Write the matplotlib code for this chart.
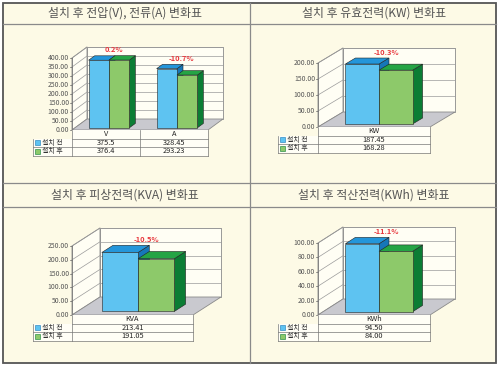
import numpy as np
import matplotlib.pyplot as plt
from matplotlib.patches import Polygon, Rectangle
from matplotlib.lines import Line2D

plt.rcParams['font.family'] = ['Noto Sans CJK KR', 'DejaVu Sans']

titles = [
    "설치 후 전압(V), 전류(A) 변화표",
    "설치 후 유효전력(KW) 변화표",
    "설치 후 피상전력(KVA) 변화표",
    "설치 후 적산전력(KWh) 변화표",
]
categories = [["V", "A"], ["KW"], ["KVA"], ["KWh"]]
before_txt = [["375.5", "328.45"], ["187.45"], ["213.41"], ["94.50"]]
after_txt = [["376.4", "293.23"], ["168.28"], ["191.05"], ["84.00"]]
change_labels = [["0.2%", "-10.7%"], ["-10.3%"], ["-10.5%"], ["-11.1%"]]
y_max = [400, 200, 250, 100]
y_step = [50, 50, 50, 20]
series_names = ["설치 전", "설치 후"]

W, H = 500, 367
BG = "#FDFAE6"
# front plane of each panel in pixels (x0, x1, y zero, y top), wall depth, legend column left
panels_px = [
    dict(x0=72, x1=208, y0=130, yt=58, dx=15, dy=11, lx=33),
    dict(x0=318, x1=430, y0=127, yt=63, dx=25, dy=15, lx=278),
    dict(x0=72, x1=193, y0=315, yt=246, dx=28, dy=18, lx=33),
    dict(x0=318, x1=430, y0=315, yt=243, dx=25, dy=16, lx=278),
]
title_y = [13.5, 13.5, 195, 195]
title_x = [125, 374, 125, 374]
colors = {
    0: ("#5EC3F1", "#2496DA", "#1677B8"),
    1: ("#8DC96A", "#25A445", "#0B7D34"),
}


def fx(x):
    return x / W


def fy(y):
    return 1 - y / H


fig = plt.figure(figsize=(5.0, 3.67), dpi=100)
fig.patch.set_facecolor("white")

# frame of the four panels
fig.add_artist(Rectangle((fx(3), fy(363)), fx(493), 360 / H, transform=fig.transFigure,
                         facecolor=BG, edgecolor="#555555", lw=1.3, zorder=-2))
for (xa, ya, xb, yb) in [(250, 3, 250, 363), (3, 24, 496, 24), (3, 183, 496, 183), (3, 207, 496, 207)]:
    fig.add_artist(Line2D([fx(xa), fx(xb)], [fy(ya), fy(yb)], transform=fig.transFigure,
                          color="#8a8a8a", lw=0.9, zorder=-1))
for k in range(4):
    fig.text(fx(title_x[k]), fy(title_y[k]), titles[k], ha="center", va="center",
             fontsize=8.6, color="#555555")

f0, f1 = 0.2, 0.6  # bar depth span within the wall depth
gw = 0.6
row_h = 8.5

for k, g in enumerate(panels_px):
    cats = categories[k]
    n = len(cats)
    before = [float(s) for s in before_txt[k]]
    after = [float(s) for s in after_txt[k]]
    ymax = y_max[k]
    ax = fig.add_axes([fx(g["x0"]), fy(g["y0"]), (g["x1"] - g["x0"]) / W, (g["y0"] - g["yt"]) / H])
    ax.set_xlim(0, n)
    ax.set_ylim(0, ymax)
    ax.axis("off")
    sx = n / (g["x1"] - g["x0"])
    sy = ymax / (g["y0"] - g["yt"])
    DX, DY = g["dx"] * sx, g["dy"] * sy

    # walls and floor
    ax.add_patch(Rectangle((DX, DY), n, ymax, facecolor="#FFFEF4", edgecolor="#8a8a8a",
                           lw=0.6, clip_on=False, zorder=1))
    ax.add_patch(Polygon([(0, 0), (DX, DY), (DX, ymax + DY), (0, ymax)], closed=True,
                         facecolor="#FFFEF4", edgecolor="#8a8a8a", lw=0.6, clip_on=False, zorder=1))
    ax.add_patch(Polygon([(0, 0), (n, 0), (n + DX, DY), (DX, DY)], closed=True,
                         facecolor="#C9C9CF", edgecolor="#8a8a8a", lw=0.6, clip_on=False, zorder=2))
    ticks = np.arange(0, ymax + 0.1, y_step[k])
    for t in ticks:
        if t > 0:
            ax.plot([DX, n + DX], [t + DY, t + DY], color="#9a9a9a", lw=0.5, clip_on=False, zorder=1.5)
            ax.plot([0, DX], [t, t + DY], color="#9a9a9a", lw=0.5, clip_on=False, zorder=1.5)
        ax.plot([-2 * sx, 0], [t, t], color="#666666", lw=0.5, clip_on=False, zorder=2)
        ax.text(-3 * sx, t, f"{t:.2f}", ha="right", va="center", fontsize=4.9,
                color="#555555", clip_on=False)
    ax.plot([0, 0], [0, ymax], color="#777777", lw=0.6, clip_on=False, zorder=2)

    # 3D bars
    bw = gw / 2
    bdx, bdy = (f1 - f0) * DX, (f1 - f0) * DY
    for i in range(n):
        for s, vals in enumerate([before, after]):
            front, top, side = colors[s]
            xl = i + (1 - gw) / 2 + s * bw + f0 * DX
            yb = f0 * DY
            yt = yb + vals[i]
            ax.add_patch(Polygon([(xl + bw, yb), (xl + bw + bdx, yb + bdy), (xl + bw + bdx, yt + bdy),
                                  (xl + bw, yt)], closed=True, facecolor=side, edgecolor="#222222",
                                 lw=0.4, clip_on=False, zorder=3 + 2 * s))
            ax.add_patch(Polygon([(xl, yt), (xl + bw, yt), (xl + bw + bdx, yt + bdy), (xl + bdx, yt + bdy)],
                                 closed=True, facecolor=top, edgecolor="#222222", lw=0.4,
                                 clip_on=False, zorder=3 + 2 * s))
            ax.add_patch(Rectangle((xl, yb), bw, vals[i], facecolor=front, edgecolor="#222222",
                                   lw=0.4, clip_on=False, zorder=4 + 2 * s))
        top_val = max(before[i], after[i])
        ax.text(i + 0.5 + 0.5 * DX, top_val + f1 * DY + 2.5 * sy, change_labels[k][i],
                ha="center", va="bottom", fontsize=5.4, fontweight="bold", color="#E8383D",
                clip_on=False, zorder=8)

    # data table under the chart
    rh = row_h * sy
    lx = (g["lx"] - g["x0"]) * sx
    tkw = dict(color="#777777", lw=0.5, clip_on=False, zorder=3)
    ax.add_patch(Rectangle((0, -rh), n, rh, facecolor="#FFFEF6", lw=0, clip_on=False, zorder=2.5))
    ax.add_patch(Rectangle((lx, -3 * rh), n - lx, 2 * rh, facecolor="#FFFEF6", lw=0,
                           clip_on=False, zorder=2.5))
    for r in (1, 2, 3):
        ax.plot([lx if r > 1 else 0, n], [-r * rh, -r * rh], **tkw)
    ax.plot([lx, lx], [-rh, -3 * rh], **tkw)
    for c in range(n + 1):
        ax.plot([c, c], [0, -3 * rh], **tkw)
    for i in range(n):
        ax.text(i + 0.5, -0.5 * rh, cats[i], ha="center", va="center", fontsize=5.3,
                color="#222222", clip_on=False)
        ax.text(i + 0.5, -1.5 * rh, before_txt[k][i], ha="center", va="center", fontsize=5.3,
                color="#222222", clip_on=False)
        ax.text(i + 0.5, -2.5 * rh, after_txt[k][i], ha="center", va="center", fontsize=5.3,
                color="#222222", clip_on=False)
    for s in range(2):
        yc = -(1.5 + s) * rh
        ax.add_patch(Rectangle((lx + 2 * sx, yc - 2.5 * sy), 5 * sx, 5 * sy, facecolor=colors[s][0],
                               edgecolor=colors[s][2], lw=0.4, clip_on=False, zorder=4))
        ax.text(lx + 9 * sx, yc, series_names[s], ha="left", va="center", fontsize=5.0,
                color="#333333", clip_on=False)

plt.savefig("out.png", dpi=100)
